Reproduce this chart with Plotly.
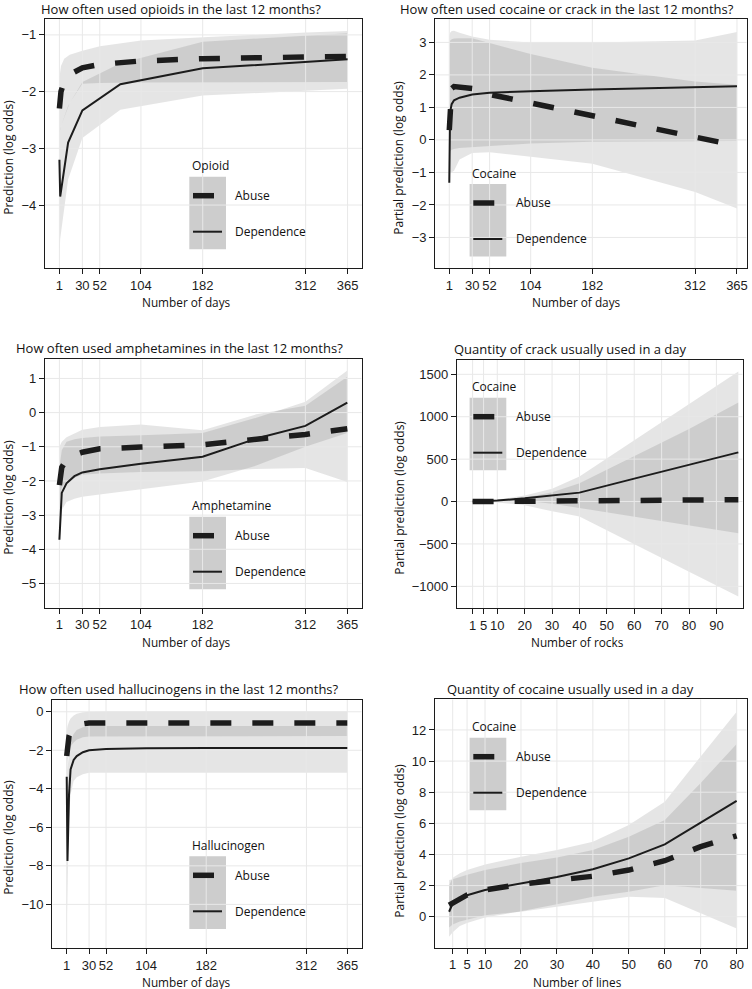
import plotly.graph_objects as go

W, H = 752, 989

# ---------------- data ----------------
days_ticks = [1, 30, 52, 104, 182, 312, 365]
rocks_ticks = [1, 5, 10, 20, 30, 40, 50, 60, 70, 80, 90]
lines_ticks = [1, 5, 10, 20, 30, 40, 50, 60, 70, 80]

# Panel 1: opioids (days)
op_abuse_x = [1, 3, 7, 14, 30, 52, 104, 182, 312, 365]
op_abuse_y = [-2.3, -2.0, -1.82, -1.7, -1.58, -1.52, -1.46, -1.42, -1.39, -1.38]
op_abuse_lo = [-2.72, -2.61, -2.45, -2.2, -1.86, -1.85, -1.84, -1.83, -1.83, -1.83]
op_abuse_hi = [-1.75, -1.55, -1.42, -1.35, -1.28, -1.2, -1.1, -1.04, -0.96, -0.93]
op_dep_x = [1, 2, 12, 30, 78, 182, 365]
op_dep_y = [-3.2, -3.85, -2.9, -2.33, -1.87, -1.59, -1.43]
op_dep_lo = [-4.9, -4.6, -3.55, -2.82, -2.32, -2.07, -1.95]
op_dep_hi = [-2.7, -2.65, -2.25, -1.83, -1.5, -1.12, -0.97]

# Panel 2: cocaine or crack (days)
cc_x = [1, 2, 4, 7, 14, 30, 52, 104, 182, 312, 365]
cc_abuse_y = [0.3, 1.0, 1.58, 1.64, 1.62, 1.58, 1.40, 1.14, 0.75, 0.12, -0.18]
cc_abuse_lo = [-1.05, -1.05, -1.0, -0.95, -0.6, -0.4, -0.38, -0.52, -0.73, -1.6, -2.11]
cc_abuse_hi = [2.9, 3.05, 3.1, 3.12, 3.13, 3.13, 2.98, 2.64, 2.22, 1.8, 1.70]
cc_dep_y = [-1.32, 0.85, 1.1, 1.22, 1.3, 1.4, 1.45, 1.5, 1.55, 1.62, 1.65]
cc_dep_lo = [-0.4, -0.35, -0.3, -0.28, -0.25, -0.22, -0.18, -0.11, -0.06, -0.04, -0.03]
cc_dep_hi = [3.2, 3.3, 3.35, 3.36, 3.3, 3.18, 3.08, 3.0, 3.0, 3.06, 3.32]

# Panel 3: amphetamines (days)
am_x = [1, 4, 10, 20, 30, 52, 104, 182, 250, 312, 365]
am_abuse_y = [-2.12, -1.6, -1.38, -1.24, -1.16, -1.06, -1.01, -0.94, -0.78, -0.64, -0.47]
am_abuse_lo = [-2.7, -2.2, -2.0, -1.9, -1.82, -1.78, -1.74, -1.72, -1.65, -1.62, -2.03]
am_abuse_hi = [-1.0, -0.85, -0.72, -0.6, -0.5, -0.42, -0.35, -0.52, -0.05, 0.2, 1.05]
am_dep_y = [-3.72, -2.35, -2.07, -1.86, -1.75, -1.66, -1.5, -1.29, -0.76, -0.39, 0.29]
am_dep_lo = [-3.9, -2.85, -2.62, -2.52, -2.46, -2.4, -2.26, -2.02, -1.55, -1.0, -0.6]
am_dep_hi = [-1.6, -1.1, -0.85, -0.78, -0.74, -0.7, -0.66, -0.6, -0.15, 0.32, 1.23]

# Panel 4: crack rocks per day
rk_x = [1, 5, 10, 20, 30, 40, 60, 80, 98]
rk_abuse_y = [0, 0, 0, 3, 5, 8, 12, 18, 22]
rk_abuse_lo = [-5, -6, -10, -45, -115, -177, -503, -829, -1120]
rk_abuse_hi = [5, 6, 10, 45, 110, 216, 535, 855, 1167]
rk_dep_y = [0, 5, 12, 38, 68, 105, 270, 430, 580]
rk_dep_lo = [-4, -3, 0, 8, -25, -79, -180, -281, -373]
rk_dep_hi = [4, 12, 25, 70, 150, 295, 722, 1148, 1532]

# Panel 5: hallucinogens (days)
ha_x = [1, 2, 4, 6, 10, 14, 22, 30, 52, 104, 182, 312, 365]
ha_abuse_y = [-2.3, -1.9, -1.25, -1.02, -0.78, -0.68, -0.6, -0.58, -0.58, -0.58, -0.58, -0.58, -0.58]
ha_abuse_lo = [-3.3, -2.6, -2.05, -1.8, -1.6, -1.45, -1.33, -1.28, -1.26, -1.26, -1.26, -1.26, -1.26]
ha_abuse_hi = [-1.0, -0.75, -0.5, -0.35, -0.2, -0.1, -0.03, 0.0, 0.02, 0.02, 0.02, 0.02, 0.02]
ha_dep_y = [-3.37, -7.75, -4.3, -3.0, -2.5, -2.3, -2.1, -2.0, -1.94, -1.89, -1.88, -1.88, -1.88]
ha_dep_lo = [-11.3, -10.5, -5.5, -4.3, -3.6, -3.4, -3.25, -3.17, -3.17, -3.17, -3.17, -3.17, -3.17]
ha_dep_hi = [-1.6, -3.0, -2.1, -1.5, -1.15, -0.95, -0.8, -0.74, -0.74, -0.74, -0.74, -0.74, -0.74]

# Panel 6: cocaine lines per day
ln_x = [0, 1, 3, 5, 10, 20, 30, 40, 50, 60, 70, 80]
ln_abuse_y = [0.75, 0.9, 1.2, 1.4, 1.72, 2.08, 2.35, 2.6, 3.0, 3.6, 4.5, 5.2]
ln_abuse_lo = [-0.7, -0.5, -0.3, -0.2, 0.1, 0.32, 0.64, 0.96, 1.28, 1.2, 0.25, -0.75]
ln_abuse_hi = [2.36, 2.4, 2.55, 2.7, 3.0, 3.45, 3.8, 4.28, 5.14, 6.21, 8.6, 11.1]
ln_dep_y = [0.32, 0.85, 1.2, 1.38, 1.72, 2.15, 2.55, 3.05, 3.75, 4.65, 6.05, 7.45]
ln_dep_lo = [-1.28, -1.0, -0.6, -0.4, -0.05, 0.35, 0.8, 1.28, 1.6, 2.03, 1.85, 1.67]
ln_dep_hi = [2.0, 2.5, 2.8, 3.0, 3.35, 3.86, 4.28, 4.82, 5.89, 7.39, 10.3, 13.17]

panels = [
    dict(title="How often used opioids in the last 12 months?", xtitle="Number of days",
         ytitle="Prediction (log odds)", legend="Opioid",
         ax=op_abuse_x, ay=op_abuse_y, alo=op_abuse_lo, ahi=op_abuse_hi,
         dx=op_dep_x, dy=op_dep_y, dlo=op_dep_lo, dhi=op_dep_hi,
         xticks=days_ticks, yticks=[-4, -3, -2, -1],
         xr=[-17.2, 383.2], yr=[-5.11, -0.72],
         box=(45, 19, 362, 268), tpos=(180.8, 9), xtpos=(186.5, 301.7), ytpos=(8.3, 157.5),
         leg=(190, 165.7)),
    dict(title="How often used cocaine or crack in the last 12 months?", xtitle="Number of days",
         ytitle="Partial prediction (log odds)", legend="Cocaine",
         ax=cc_x, ay=cc_abuse_y, alo=cc_abuse_lo, ahi=cc_abuse_hi,
         dx=cc_x, dy=cc_dep_y, dlo=cc_dep_lo, dhi=cc_dep_hi,
         xticks=days_ticks, yticks=[-3, -2, -1, 0, 1, 2, 3],
         xr=[-16.7, 377.3], yr=[-3.94, 3.72],
         box=(435.3, 19, 746.7, 268), tpos=(567.2, 9), xtpos=(576.8, 301.7), ytpos=(398.7, 158),
         leg=(470.3, 173)),
    dict(title="How often used amphetamines in the last 12 months?", xtitle="Number of days",
         ytitle="Prediction (log odds)", legend="Amphetamine",
         ax=am_x, ay=am_abuse_y, alo=am_abuse_lo, ahi=am_abuse_hi,
         dx=am_x, dy=am_dep_y, dlo=am_dep_lo, dhi=am_dep_hi,
         xticks=days_ticks, yticks=[-5, -4, -3, -2, -1, 0, 1],
         xr=[-17.2, 383.2], yr=[-5.71, 1.56],
         box=(45, 359.3, 361.7, 607.7), tpos=(179.2, 348.3), xtpos=(186.7, 641.7), ytpos=(8.3, 497.5),
         leg=(190, 505.7)),
    dict(title="Quantity of crack usually used in a day", xtitle="Number of rocks",
         ytitle="Partial prediction (log odds)", legend="Cocaine",
         ax=rk_x, ay=rk_abuse_y, alo=rk_abuse_lo, ahi=rk_abuse_hi,
         dx=rk_x, dy=rk_dep_y, dlo=rk_dep_lo, dhi=rk_dep_hi,
         xticks=rocks_ticks, yticks=[-1000, -500, 0, 500, 1000, 1500],
         xr=[-4.7, 99.6], yr=[-1259, 1669],
         box=(457, 360, 742.7, 608.3), tpos=(570.7, 349.3), xtpos=(577.2, 641.7), ytpos=(398.7, 498),
         leg=(470.3, 386.7)),
    dict(title="How often used hallucinogens in the last 12 months?", xtitle="Number of days",
         ytitle="Prediction (log odds)", legend="Hallucinogen",
         ax=ha_x, ay=ha_abuse_y, alo=ha_abuse_lo, ahi=ha_abuse_hi,
         dx=ha_x, dy=ha_dep_y, dlo=ha_dep_lo, dhi=ha_dep_hi,
         xticks=days_ticks, yticks=[-10, -8, -6, -4, -2, 0],
         xr=[-17.7, 383.7], yr=[-12.28, 0.61],
         box=(52.3, 700, 361.7, 948.3), tpos=(179, 689.3), xtpos=(186.7, 981.7), ytpos=(8.3, 837.5),
         leg=(190, 845.3)),
    dict(title="Quantity of cocaine usually used in a day", xtitle="Number of lines",
         ytitle="Partial prediction (log odds)", legend="Cocaine",
         ax=ln_x, ay=ln_abuse_y, alo=ln_abuse_lo, ahi=ln_abuse_hi,
         dx=ln_x, dy=ln_dep_y, dlo=ln_dep_lo, dhi=ln_dep_hi,
         xticks=lines_ticks, yticks=[0, 2, 4, 6, 8, 10, 12],
         xr=[-3.92, 82.8], yr=[-1.99, 13.97],
         box=(435, 699.3, 746.7, 947.7), tpos=(570.7, 689.3), xtpos=(577.3, 981.7), ytpos=(398.7, 841),
         leg=(470.3, 726.7)),
]

TXT = "'Open Sans', 'Noto Sans', sans-serif"
NUM = "'Liberation Sans', Arial, sans-serif"
INK = "#1c1c1c"
BAND = "rgba(0,0,0,0.10)"
GRID = "#e8e8e8"


def px(x):
    return x / W


def py(y):
    return 1 - y / H


fig = go.Figure()
layout = dict(width=W, height=H, margin=dict(l=0, r=0, t=0, b=0),
              paper_bgcolor="white", plot_bgcolor="white", showlegend=False)
annotations = []
shapes = []

for i, p in enumerate(panels, start=1):
    sx = "" if i == 1 else str(i)
    xa, ya = "x" + sx, "y" + sx
    x0, y0, x1, y1 = p["box"]
    common = dict(showline=True, mirror=True, linecolor=INK, linewidth=1.3,
                  ticks="outside", ticklen=5, tickwidth=1, tickcolor=INK,
                  showgrid=False, zeroline=False, tickangle=0,
                  tickfont=dict(family=NUM, size=13, color=INK))
    layout["xaxis" + sx] = dict(domain=[px(x0), px(x1)], anchor=ya, range=p["xr"],
                                tickvals=p["xticks"], ticklabeloverflow="allow", **common)
    layout["yaxis" + sx] = dict(domain=[py(y1), py(y0)], anchor=xa, range=p["yr"],
                                tickvals=p["yticks"], **common)

    # confidence bands
    for bx, lo, hi in ((p["ax"], p["alo"], p["ahi"]), (p["dx"], p["dlo"], p["dhi"])):
        fig.add_trace(go.Scatter(x=list(bx) + list(bx)[::-1], y=list(hi) + list(lo)[::-1],
                                 mode="lines", fill="toself", fillcolor=BAND,
                                 line=dict(width=0), hoverinfo="skip", xaxis=xa, yaxis=ya))
    # grid drawn over the bands
    gx, gy = [], []
    for t in p["xticks"]:
        gx += [t, t, None]
        gy += [p["yr"][0], p["yr"][1], None]
    for t in p["yticks"]:
        gx += [p["xr"][0], p["xr"][1], None]
        gy += [t, t, None]
    fig.add_trace(go.Scatter(x=gx, y=gy, mode="lines", line=dict(color=GRID, width=1),
                             hoverinfo="skip", xaxis=xa, yaxis=ya))
    # lines
    fig.add_trace(go.Scatter(x=p["dx"], y=p["dy"], mode="lines",
                             line=dict(color=INK, width=2), xaxis=xa, yaxis=ya))
    fig.add_trace(go.Scatter(x=p["ax"], y=p["ay"], mode="lines",
                             line=dict(color=INK, width=5.5, dash="21px,21px"), xaxis=xa, yaxis=ya))

    # titles
    tx, ty = p["tpos"]
    annotations.append(dict(text=p["title"], x=px(tx), y=py(ty), xref="paper", yref="paper",
                            xanchor="center", yanchor="middle", showarrow=False,
                            font=dict(family=TXT, size=13, color="#111111")))
    tx, ty = p["xtpos"]
    annotations.append(dict(text=p["xtitle"], x=px(tx), y=py(ty), xref="paper", yref="paper",
                            xanchor="center", yanchor="middle", showarrow=False,
                            font=dict(family=TXT, size=11.8, color="#111111")))
    tx, ty = p["ytpos"]
    annotations.append(dict(text=p["ytitle"], x=px(tx), y=py(ty), xref="paper", yref="paper",
                            xanchor="center", yanchor="middle", showarrow=False, textangle=-90,
                            font=dict(family=TXT, size=12, color="#111111")))

    # legend (drawn inside the panel)
    lx, ly = p["leg"]
    annotations.append(dict(text=p["legend"], x=px(lx), y=py(ly), xref="paper", yref="paper",
                            xanchor="left", yanchor="middle", showarrow=False,
                            font=dict(family=TXT, size=12, color="#111111")))
    kx0, kx1 = lx - 0.7, lx + 36
    ky0 = ly + 11
    shapes.append(dict(type="rect", xref="paper", yref="paper", layer="below",
                       x0=px(kx0), x1=px(kx1), y0=py(ky0), y1=py(ky0 + 72.6),
                       fillcolor="#cdcdcd", line=dict(width=0)))
    ya_ = ky0 + 19
    yd_ = ky0 + 55
    shapes.append(dict(type="line", xref="paper", yref="paper", layer="above",
                       x0=px(lx + 3), x1=px(lx + 24), y0=py(ya_), y1=py(ya_),
                       line=dict(color=INK, width=5.5)))
    shapes.append(dict(type="line", xref="paper", yref="paper", layer="above",
                       x0=px(lx + 3), x1=px(lx + 32), y0=py(yd_), y1=py(yd_),
                       line=dict(color=INK, width=2)))
    for lab, yy in (("Abuse", ya_), ("Dependence", yd_)):
        annotations.append(dict(text=lab, x=px(lx + 43.3), y=py(yy), xref="paper", yref="paper",
                                xanchor="left", yanchor="middle", showarrow=False,
                                font=dict(family=TXT, size=12, color="#111111")))

layout["annotations"] = annotations
layout["shapes"] = shapes
fig.update_layout(**layout)
fig.write_html("out.html",
               config={"displayModeBar": False},
               post_script="document.body.style.margin='0px';"
                           "document.documentElement.style.overflow='hidden';")
